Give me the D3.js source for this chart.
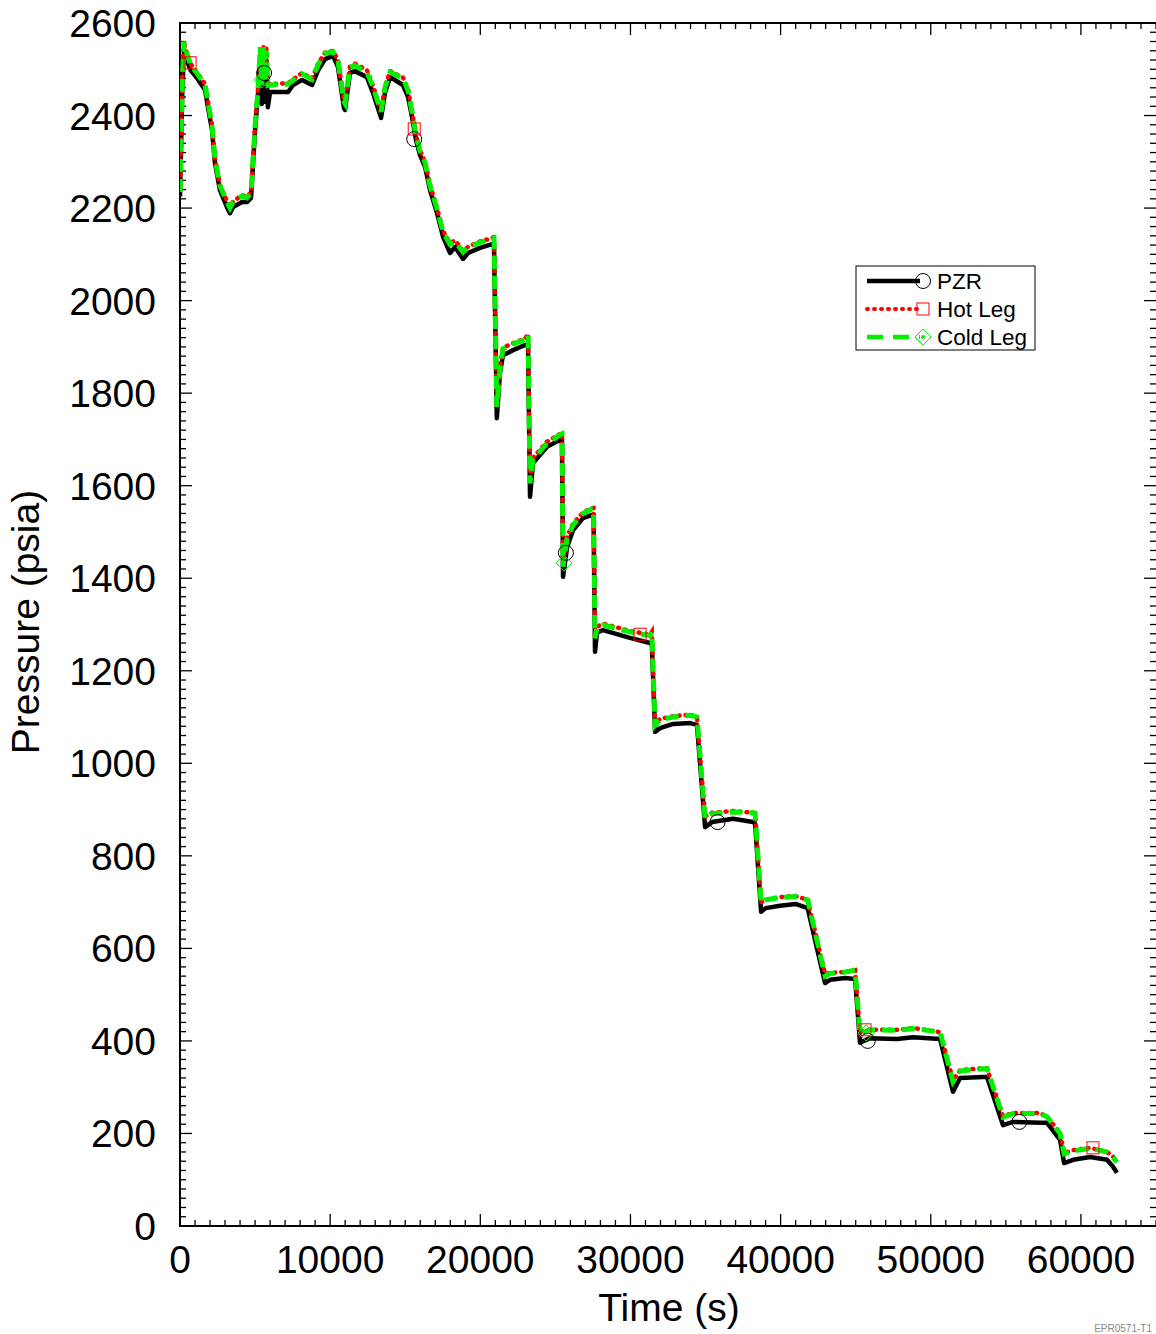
<!DOCTYPE html>
<html>
<head>
<meta charset="utf-8">
<script src="https://cdn.jsdelivr.net/npm/d3@7"></script>
<style>
  html, body { margin: 0; padding: 0; background: #fff; }
  svg { display: block; font-family: "Liberation Sans", Arial, sans-serif; }
</style>
</head>
<body>
<div id="chart"></div>
<script>
// time grid shared by the three traces (s)
const timeS = [
  0, 150, 270, 450, 700, 1200, 1670, 1860, 2130, 2330, 2660, 3130, 3330, 3530, 4130, 4460, 4730,
  5000, 5200, 5350, 5450, 5550, 5650, 5750, 5850, 6000, 7200, 7530, 8130, 8800, 9200, 9660, 10190,
  10520, 10920, 10990, 11320, 11650, 12450, 12850, 13390, 13650, 13990, 14850, 15190, 15450, 15720,
  15980, 16320, 16650, 17120, 17520, 17980, 18320, 18850, 19180, 19980, 20780, 20910, 21100, 21310,
  21510, 22180, 22980, 23180, 23310, 23510, 24440, 25310, 25440, 25510, 25780, 26180, 26840, 27440,
  27540, 27640, 27770, 28170, 29970, 31300, 31420, 31640, 31970, 32840, 33970, 34430, 34970, 35430,
  36830, 38160, 38300, 38700, 39000, 39960, 41000, 41800, 42960, 43290, 44300, 44960, 45290, 45950,
  47750, 48820, 50620, 51480, 51950, 53480, 53750, 54810, 55480, 57280, 57750, 58610, 58880, 59480,
  60610, 61740, 62140, 62400
];
const pzrPsia = [
  2225, 2450, 2540, 2520, 2498, 2478, 2455, 2418, 2369, 2297, 2239, 2202, 2189, 2202, 2213, 2213, 2222,
  2369, 2449, 2520, 2425, 2530, 2430, 2520, 2418, 2451, 2451, 2466, 2477, 2466, 2498, 2522, 2529,
  2505, 2416, 2412, 2492, 2496, 2483, 2449, 2395, 2449, 2483, 2466, 2440, 2397, 2347,
  2315, 2289, 2239, 2189, 2138, 2103, 2116, 2090, 2103, 2114, 2122, 2124, 1746, 1844,
  1882, 1893, 1904, 1906, 1576, 1649, 1684, 1699, 1700, 1403, 1467, 1504, 1530, 1537,
  1538, 1241, 1282, 1288, 1271, 1260, 1262, 1068, 1076, 1085, 1087, 1083, 862, 873,
  880, 873, 870, 679, 687, 692, 696, 687, 525, 532, 536, 534, 396, 406,
  404, 408, 404, 290, 320, 322, 322, 218, 225, 223, 223, 186, 136, 143,
  149, 143, 128, 115
];
const hotLegPsia = [
  2240, 2480, 2555, 2535, 2512, 2490, 2468, 2432, 2380, 2308, 2250, 2215, 2203, 2214, 2228, 2224, 2235,
  2380, 2460, 2545, 2470, 2548, 2480, 2545, 2470, 2468, 2470, 2478, 2492, 2480, 2512, 2536, 2540,
  2520, 2432, 2428, 2506, 2512, 2498, 2465, 2410, 2462, 2496, 2482, 2456, 2410, 2358,
  2326, 2300, 2250, 2200, 2150, 2125, 2130, 2108, 2116, 2128, 2135, 2138, 1775, 1858,
  1898, 1908, 1918, 1928, 1610, 1660, 1695, 1712, 1714, 1430, 1490, 1518, 1542, 1552,
  1552, 1275, 1295, 1302, 1286, 1278, 1284, 1085, 1096, 1102, 1105, 1100, 885, 893,
  897, 893, 892, 700, 705, 711, 713, 705, 545, 547, 549, 553, 420, 424,
  424, 428, 419, 315, 337, 341, 340, 238, 244, 244, 236, 201, 158, 164,
  169, 160, 150, 140
];
const coldLegPsia = [
  2235, 2470, 2560, 2535, 2510, 2488, 2466, 2430, 2378, 2306, 2248, 2213, 2200, 2212, 2226, 2222, 2233,
  2378, 2458, 2548, 2465, 2550, 2470, 2540, 2465, 2466, 2468, 2476, 2490, 2478, 2510, 2534, 2538,
  2518, 2430, 2426, 2504, 2508, 2494, 2462, 2408, 2460, 2494, 2480, 2454, 2408, 2356,
  2324, 2298, 2248, 2198, 2148, 2122, 2127, 2105, 2114, 2126, 2133, 2135, 1770, 1852,
  1896, 1906, 1916, 1926, 1605, 1656, 1692, 1710, 1712, 1425, 1486, 1515, 1540, 1550,
  1550, 1270, 1293, 1299, 1284, 1276, 1284, 1082, 1094, 1100, 1104, 1100, 880, 891,
  895, 893, 892, 698, 705, 710, 712, 705, 540, 546, 549, 553, 415, 424,
  423, 427, 419, 312, 335, 340, 340, 235, 243, 243, 236, 200, 156, 162,
  168, 160, 148, 138
];

// symbol markers on each trace
const pzrMarkT = [5600, 15600, 25700, 35800, 45800, 55900];
const pzrMarkP = [2492, 2349, 1455, 873, 400, 225];
const hotMarkT = [670, 15600, 30640, 45620, 60800];
const hotMarkP = [2514, 2371, 1279, 424, 169];
const coldMarkT = [5460, 25570, 45690];
const coldMarkP = [2477, 1433, 417];

const xTickLabels = [0, 10000, 20000, 30000, 40000, 50000, 60000];
const yTickLabels = [0, 200, 400, 600, 800, 1000, 1200, 1400, 1600, 1800, 2000, 2200, 2400, 2600];

const W = 1156, H = 1334;
const pLeft = 180, pRight = 1156, pTop = 23, pBottom = 1226;
const green = "#00f000";

const svg = d3.select("#chart").append("svg")
  .attr("width", W).attr("height", H);

const x = d3.scaleLinear().domain([0, 65000]).range([pLeft, pRight]);
const y = d3.scaleLinear().domain([0, 2600]).range([pBottom, pTop]);

svg.append("defs").append("clipPath").attr("id", "clip-plot")
  .append("rect").attr("x", pLeft).attr("y", pTop)
  .attr("width", pRight - pLeft).attr("height", pBottom - pTop);

// ticks (inward, all four sides)
const xMinor = d3.range(0, 65001, 1000).filter(v => v % 10000 !== 0);
const yMinor = d3.range(0, 2601, 20).filter(v => v % 200 !== 0);
const tickG = svg.append("g").attr("stroke", "#000").attr("stroke-width", 1.3);

function vTicks(vals, len) {
  vals.forEach(v => {
    tickG.append("line").attr("x1", x(v)).attr("x2", x(v)).attr("y1", pBottom).attr("y2", pBottom - len);
    tickG.append("line").attr("x1", x(v)).attr("x2", x(v)).attr("y1", pTop).attr("y2", pTop + len);
  });
}
function hTicks(vals, len) {
  vals.forEach(v => {
    tickG.append("line").attr("y1", y(v)).attr("y2", y(v)).attr("x1", pLeft).attr("x2", pLeft + len);
    tickG.append("line").attr("y1", y(v)).attr("y2", y(v)).attr("x1", pRight).attr("x2", pRight - len);
  });
}
vTicks(xMinor, 6);
vTicks(xTickLabels, 12);
hTicks(yMinor, 6);
hTicks(yTickLabels, 12);

// frame
svg.append("line").attr("x1", pLeft).attr("x2", pLeft).attr("y1", pTop - 1).attr("y2", pBottom + 1)
  .attr("stroke", "#000").attr("stroke-width", 2);
svg.append("line").attr("x1", pLeft).attr("x2", pRight).attr("y1", pBottom).attr("y2", pBottom)
  .attr("stroke", "#000").attr("stroke-width", 2);
svg.append("line").attr("x1", pLeft).attr("x2", pRight).attr("y1", pTop).attr("y2", pTop)
  .attr("stroke", "#000").attr("stroke-width", 2);

// tick labels
svg.append("g").selectAll("text").data(xTickLabels).join("text")
  .attr("x", d => x(d)).attr("y", pBottom + 47)
  .attr("text-anchor", "middle").attr("font-size", 39).text(d => d);
svg.append("g").selectAll("text").data(yTickLabels).join("text")
  .attr("x", 156).attr("y", d => y(d) + 14)
  .attr("text-anchor", "end").attr("font-size", 39).text(d => d);

// axis titles
svg.append("text").attr("x", 669).attr("y", 1321).attr("text-anchor", "middle")
  .attr("font-size", 39).text("Time (s)");
svg.append("text").attr("transform", "translate(39,622) rotate(-90)")
  .attr("text-anchor", "middle").attr("font-size", 39).text("Pressure (psia)");

// traces
const plot = svg.append("g").attr("clip-path", "url(#clip-plot)");
const mkLine = vals => d3.line().x((d, i) => x(timeS[i])).y((d, i) => y(vals[i]))(vals);

plot.append("path").attr("d", mkLine(pzrPsia))
  .attr("fill", "none").attr("stroke", "#000").attr("stroke-width", 4.5)
  .attr("stroke-linejoin", "round");
plot.append("path").attr("d", mkLine(hotLegPsia))
  .attr("fill", "none").attr("stroke", "#ff0000").attr("stroke-width", 4.5)
  .attr("stroke-linecap", "round").attr("stroke-dasharray", "1,6");
plot.append("path").attr("d", mkLine(coldLegPsia))
  .attr("fill", "none").attr("stroke", green).attr("stroke-width", 5)
  .attr("stroke-dasharray", "13,7");

// markers
const sq = 12, dm = 8;
plot.selectAll(".pzr-m").data(pzrMarkT).join("circle")
  .attr("cx", d => x(d)).attr("cy", (d, i) => y(pzrMarkP[i])).attr("r", 7.5)
  .attr("fill", "none").attr("stroke", "#000").attr("stroke-width", 1);
plot.selectAll(".hot-m").data(hotMarkT).join("rect")
  .attr("x", d => x(d) - sq / 2).attr("y", (d, i) => y(hotMarkP[i]) - sq / 2)
  .attr("width", sq).attr("height", sq)
  .attr("fill", "none").attr("stroke", "#ff0000").attr("stroke-width", 1);
plot.selectAll(".cold-m").data(coldMarkT).join("path")
  .attr("d", (d, i) => {
    const cx = x(d), cy = y(coldMarkP[i]);
    return `M${cx},${cy - dm}L${cx + dm},${cy}L${cx},${cy + dm}L${cx - dm},${cy}Z`;
  })
  .attr("fill", "none").attr("stroke", green).attr("stroke-width", 1);

// legend
const lg = svg.append("g");
lg.append("rect").attr("x", 856).attr("y", 266).attr("width", 179).attr("height", 84)
  .attr("fill", "#fff").attr("stroke", "#000").attr("stroke-width", 1);
const rows = [
  { name: "PZR", color: "#000", w: 4.5, dash: null, cap: "butt", y: 281 },
  { name: "Hot Leg", color: "#ff0000", w: 4, dash: "1,6", cap: "round", y: 309 },
  { name: "Cold Leg", color: green, w: 4.5, dash: "16,10", cap: "butt", y: 337 }
];
rows.forEach((r, i) => {
  lg.append("line").attr("x1", 867).attr("x2", 920).attr("y1", r.y).attr("y2", r.y)
    .attr("stroke", r.color).attr("stroke-width", r.w).attr("stroke-linecap", r.cap)
    .attr("stroke-dasharray", r.dash);
  if (i === 0) {
    lg.append("circle").attr("cx", 923).attr("cy", r.y).attr("r", 7.5)
      .attr("fill", "none").attr("stroke", "#000").attr("stroke-width", 1);
  } else if (i === 1) {
    lg.append("rect").attr("x", 917).attr("y", r.y - 6).attr("width", 12).attr("height", 12)
      .attr("fill", "none").attr("stroke", "#ff0000").attr("stroke-width", 1);
  } else {
    lg.append("path").attr("d", `M923,${r.y - 8}L931,${r.y}L923,${r.y + 8}L915,${r.y}Z`)
      .attr("fill", "none").attr("stroke", green).attr("stroke-width", 1);
    lg.append("circle").attr("cx", 923).attr("cy", r.y).attr("r", 2).attr("fill", green);
  }
  lg.append("text").attr("x", 937).attr("y", r.y + 8).attr("font-size", 22.5).text(r.name);
});

// small figure id at the bottom-right corner
svg.append("text").attr("x", 1152).attr("y", 1332).attr("text-anchor", "end")
  .attr("font-size", 10).attr("fill", "#888").text("EPR0571-T1");
</script>
</body>
</html>
